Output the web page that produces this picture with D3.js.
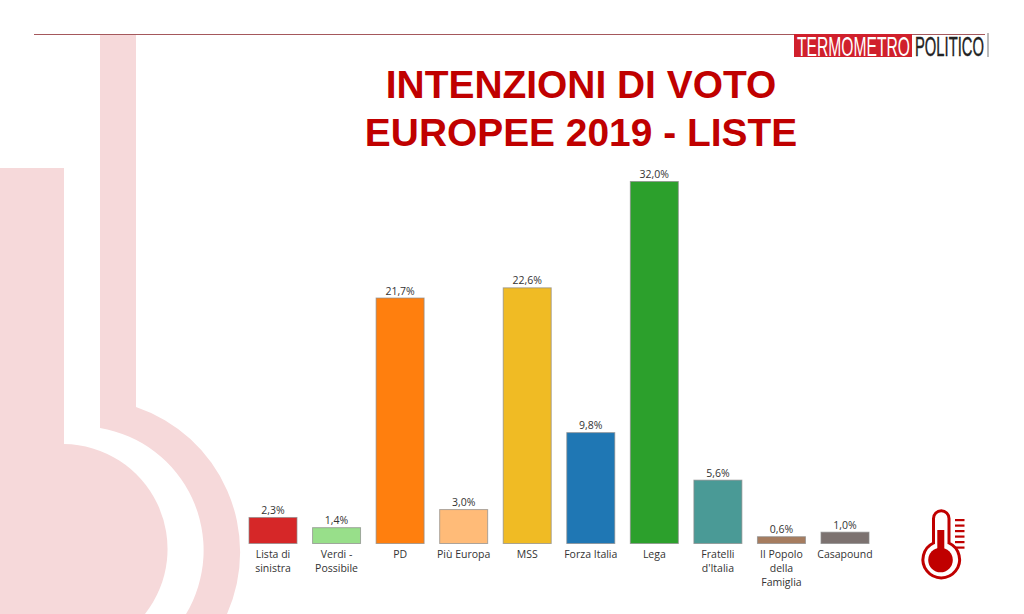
<!DOCTYPE html>
<html>
<head>
<meta charset="utf-8">
<script src="https://cdn.jsdelivr.net/npm/d3@7"></script>
<style>
  html, body { margin: 0; padding: 0; background: #fff; }
  svg { display: block; }
</style>
</head>
<body>
<div id="wrapper"></div>
<script>
// Chart data
const categories = ["Lista di sinistra", "Verdi - Possibile", "PD", "Più Europa", "MSS", "Forza Italia", "Lega", "Fratelli d'Italia", "Il Popolo della Famiglia", "Casapound"]
const values = [2.3, 1.4, 21.7, 3.0, 22.6, 9.8, 32.0, 5.6, 0.6, 1.0]
const barColors = ["#d62728", "#98df8a", "#ff7f0e", "#ffbb78", "#f0bb24", "#1f77b4", "#2ca02c", "#4a9a96", "#a67c5f", "#7c7270"]
const labelLines = [["Lista di", "sinistra"], ["Verdi -", "Possibile"], ["PD"], ["Più Europa"], ["MSS"], ["Forza Italia"], ["Lega"], ["Fratelli", "d'Italia"], ["Il Popolo", "della", "Famiglia"], ["Casapound"]]
const titleLines = ["INTENZIONI DI VOTO", "EUROPEE 2019 - LISTE"]

const width = 1024
const height = 614
const pink = "#f6d9da"
const red = "#c00000"

const svg = d3.select("#wrapper").append("svg").attr("width", width).attr("height", height)

// Big faded thermometer behind the chart
const backdrop = svg.append("g").attr("fill", pink)
backdrop.append("path")
  .attr("d", "M0,168 L64,168 L64,444 A105,105 0 0 1 145,614 L0,614 Z")
backdrop.append("path")
  .attr("d", "M100,35 L136,35 L136,407 A153,153 0 0 1 227,614 L186,614 A124,124 0 0 0 100,428 Z")

// Top rule
svg.append("line")
  .attr("x1", 34).attr("x2", 985).attr("y1", 34.5).attr("y2", 34.5)
  .attr("stroke", "#a5585c").attr("stroke-width", 1)

// Logo: the narrow face is squeezed to the width it has in the picture
const fitText = (selection, x, targetWidth) => {
  const natural = selection.node().getComputedTextLength()
  selection.attr("transform", `translate(${x},56) scale(${targetWidth / natural},1)`)
}
const logo = svg.append("g").attr("font-family", "'Liberation Sans Narrow', 'Liberation Sans', sans-serif")
logo.append("rect").attr("x", 794).attr("y", 34).attr("width", 118).attr("height", 23).attr("fill", "#d0202c")
logo.append("text")
  .attr("font-size", 27).attr("fill", "#fff")
  .text("TERMOMETRO")
  .call(fitText, 797, 113)
logo.append("text")
  .attr("font-size", 27).attr("fill", "#222").attr("stroke", "#222").attr("stroke-width", 0.4)
  .text("POLITICO")
  .call(fitText, 915, 69)
logo.append("line")
  .attr("x1", 988).attr("x2", 988).attr("y1", 33).attr("y2", 57)
  .attr("stroke", "#bbb").attr("stroke-width", 2)

// Title
svg.append("g").selectAll("text")
  .data(titleLines)
  .enter()
  .append("text")
  .attr("x", 581)
  .attr("y", (d, i) => 98 + i * 48)
  .attr("text-anchor", "middle")
  .attr("font-family", "'Liberation Sans', Arial, sans-serif")
  .attr("font-weight", "bold")
  .attr("font-size", 38.9)
  .attr("fill", red)
  .text(d => d)

// Scales
const xScale = d3.scaleBand().domain(categories).range([249, 869]).paddingInner(0.245)
const yScale = d3.scaleLinear().domain([0, 32]).range([543.5, 181.5])

// Bars
svg.append("g").selectAll("rect")
  .data(values)
  .enter()
  .append("rect")
  .attr("x", (d, i) => xScale(categories[i]))
  .attr("y", d => yScale(d))
  .attr("width", xScale.bandwidth())
  .attr("height", d => yScale(0) - yScale(d))
  .attr("fill", (d, i) => barColors[i])
  .attr("stroke", "#8a8a8a")
  .attr("stroke-opacity", 0.7)
  .attr("stroke-width", 1)

// Value labels
svg.append("g").selectAll("text")
  .data(values)
  .enter()
  .append("text")
  .attr("x", (d, i) => xScale(categories[i]) + xScale.bandwidth() / 2)
  .attr("y", d => yScale(d) - 3.5)
  .attr("text-anchor", "middle")
  .attr("font-family", "'Open Sans', sans-serif")
  .attr("font-size", 10.5)
  .attr("font-weight", 500)
  .attr("fill", "#333")
  .text(d => d.toFixed(1).replace(".", ",") + "%")

// Category axis, ticks replaced with wrapped lines
const xAxis = svg.append("g")
  .attr("transform", `translate(0,${yScale(0)})`)
  .call(d3.axisBottom(xScale).tickSize(0).tickPadding(0))
xAxis.select(".domain").remove()
xAxis.selectAll("text").each(function(d) {
  const lines = labelLines[categories.indexOf(d)]
  const text = d3.select(this)
    .text(null)
    .attr("y", 14)
    .attr("dy", null)
    .attr("font-family", "'Open Sans', sans-serif")
    .attr("font-size", 10.5)
    .attr("font-weight", 500)
    .attr("fill", "#333")
  lines.forEach((line, i) => {
    text.append("tspan").attr("x", 0).attr("y", 14 + i * 14).text(line)
  })
})

// Small thermometer icon
const icon = svg.append("g")
icon.append("path")
  .attr("d", "M933.5,543 L933.5,518.5 A7.75,7.75 0 0 1 949,518.5 L949,543 A18.3,18.3 0 1 1 933.5,543 Z")
  .attr("fill", "none").attr("stroke", red).attr("stroke-width", 3)
icon.append("circle").attr("cx", 940.5).attr("cy", 560).attr("r", 12.3).attr("fill", red)
icon.append("rect").attr("x", 937.3).attr("y", 530).attr("width", 7).attr("height", 22).attr("fill", red)
icon.append("g").selectAll("rect")
  .data(d3.range(6))
  .enter()
  .append("rect")
  .attr("x", 955).attr("y", d => 519 + d * 5.5)
  .attr("width", 9.5).attr("height", 2.2)
  .attr("fill", red)
</script>
</body>
</html>
